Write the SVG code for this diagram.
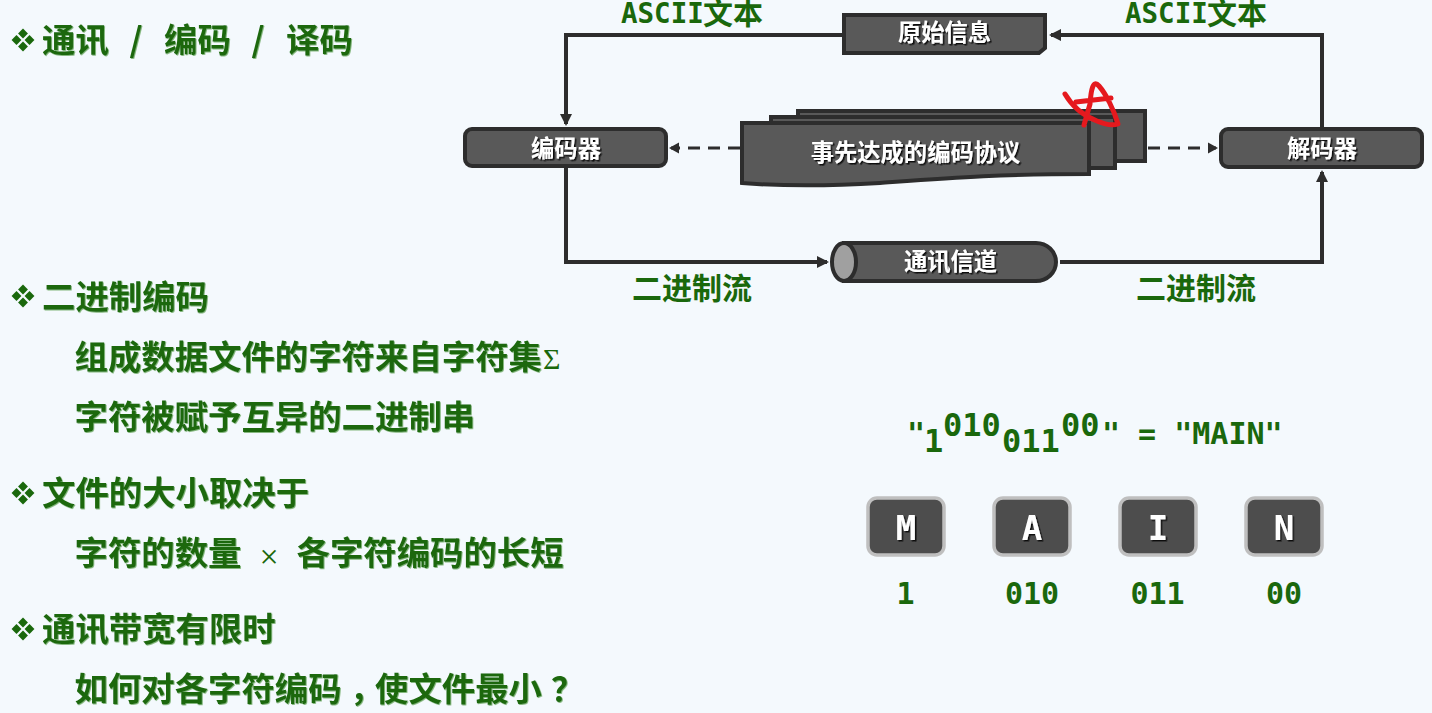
<svg xmlns="http://www.w3.org/2000/svg" width="1432" height="713" viewBox="0 0 1432 713">
<style>
.l{font-family:"Noto Sans CJK SC","Noto Sans",sans-serif;font-weight:700;font-size:33.4px;fill:#1a680c;filter:url(#gs)}
.g{font-family:"DejaVu Sans Mono","Noto Sans CJK SC",monospace;font-weight:700;font-size:27.5px;fill:#1a680c}
.c{font-family:"Noto Sans CJK SC",sans-serif;font-weight:700;font-size:30px;fill:#1a680c}
.n{font-family:"Noto Sans CJK SC",sans-serif;font-weight:700;font-size:23.300px;fill:#fff;text-anchor:middle;filter:url(#ds)}
.s{fill:#595959;stroke:#2d2d2d;stroke-width:4}
.w{fill:none;stroke:#2d2d2d;stroke-width:4}
.d{fill:none;stroke:#2d2d2d;stroke-width:3;stroke-dasharray:12 8}
.k{fill:#4d4d4d;stroke:#bfbfbf;stroke-width:3.500}
.m{font-family:"DejaVu Sans Mono",monospace;font-weight:700;font-size:30px;fill:#1a680c}
.m2{font-family:"DejaVu Sans Mono",monospace;font-weight:700;font-size:32px;fill:#1a680c}
.kt{font-family:"DejaVu Sans Mono",monospace;font-weight:700;font-size:34px;fill:#fff;text-anchor:middle;filter:url(#ds)}
.b{fill:#1a680c}
.sym{font-family:"Liberation Serif",serif;font-weight:400;fill:#1a680c}
</style>
<defs>
<filter id="ds" x="-10%" y="-10%" width="120%" height="130%"><feDropShadow dx="1.500" dy="1.500" stdDeviation="0.400" flood-color="#111"/></filter>
<filter id="gs" x="-5%" y="-5%" width="110%" height="115%"><feDropShadow dx="0.800" dy="0.800" stdDeviation="0.300" flood-color="#6aa860"/></filter>
<marker id="a" markerUnits="userSpaceOnUse" markerWidth="14" markerHeight="14" refX="10" refY="7" orient="auto"><path d="M0 1L12 7L0 13Z" fill="#2d2d2d"/></marker>
<marker id="a2" markerUnits="userSpaceOnUse" markerWidth="14" markerHeight="14" refX="8" refY="7" orient="auto"><path d="M0 1.500L10 7L0 12.500Z" fill="#2d2d2d"/></marker>
<g id="bu"><rect x="-3.500" y="-10" width="7" height="7" transform="rotate(45 0 -6.500)"/><rect x="-3.500" y="3" width="7" height="7" transform="rotate(45 0 6.500)"/><rect x="-10" y="-3.500" width="7" height="7" transform="rotate(45 -6.500 0)"/><rect x="3" y="-3.500" width="7" height="7" transform="rotate(45 6.500 0)"/></g>
</defs>
<rect width="1432" height="713" fill="#f4f9fd"/>
<g id="bullets" class="b">
<use href="#bu" x="23" y="40"/><use href="#bu" x="23" y="296"/><use href="#bu" x="23" y="493"/><use href="#bu" x="23" y="629"/>
</g>
<g id="list">
<text class="l" x="42" y="52">通讯</text>
<text class="l" x="136" y="52" text-anchor="middle">/</text>
<text class="l" x="164" y="52">编码</text>
<text class="l" x="258" y="52" text-anchor="middle">/</text>
<text class="l" x="286" y="52">译码</text>
<text class="l" x="42" y="309">二进制编码</text>
<text class="l" x="74.500" y="369">组成数据文件的字符来自字符集</text>
<text class="sym" x="543" y="369" font-size="30">Σ</text>
<text class="l" x="74.500" y="429">字符被赋予互异的二进制串</text>
<text class="l" x="42" y="505">文件的大小取决于</text>
<text class="l" x="74.500" y="565">字符的数量</text>
<text class="sym" x="269" y="568" font-size="34" text-anchor="middle">×</text>
<text class="l" x="296.500" y="565">各字符编码的长短</text>
<text class="l" x="42" y="641">通讯带宽有限时</text>
<text class="l" x="74.500" y="701">如何对各字符编码<tspan dx="8">，</tspan><tspan dx="-8">使文件最小</tspan><tspan dx="9">？</tspan></text>
</g>
<g id="connectors">
<path class="w" d="M842 35H566V124" marker-end="url(#a)"/>
<path class="w" d="M1322 128V35H1051" marker-end="url(#a)"/>
<path class="w" d="M566 168V262H827" marker-end="url(#a)"/>
<path class="w" d="M1060 262H1322V172" marker-end="url(#a)"/>
<path class="d" d="M740 148H671" marker-end="url(#a2)"/>
<path class="d" d="M1148 148H1216" marker-end="url(#a2)"/>
</g>
<g id="labels">
<text class="g" x="621" y="23">ASCII</text><text class="c" x="703" y="24">文本</text>
<text class="g" x="1125" y="23">ASCII</text><text class="c" x="1207" y="24">文本</text>
<text class="c" x="632" y="299">二进制流</text>
<text class="c" x="1136" y="299">二进制流</text>
</g>
<g id="source">
<path class="s" d="M844 15H1045V48L1039 53H844Z"/>
<text class="n" x="944.500" y="41">原始信息</text>
</g>
<g id="encoder"><rect class="s" x="465" y="129" width="201" height="37" rx="7"/><text class="n" x="566" y="157">编码器</text></g>
<g id="decoder"><rect class="s" x="1221" y="129" width="201" height="38" rx="7"/><text class="n" x="1322" y="157">解码器</text></g>
<g id="protocol">
<rect class="s" x="798" y="111" width="347" height="50"/>
<rect class="s" x="771" y="117" width="344" height="51"/>
<path class="s" d="M742 123H1089V174C1000 174 950 178 880 183C830 186 780 186 742 183Z"/>
<text class="n" x="915.500" y="161">事先达成的编码协议</text>
</g>
<path id="scribble" d="M1065 94C1072 106 1084 116 1097 121C1104 124 1112 126 1118 124C1114 110 1106 94 1099 86C1093 79 1091 90 1090 104L1084 125M1076 102L1111 98" fill="none" stroke="#e5191e" stroke-width="5" stroke-linecap="round" stroke-linejoin="round"/>
<g id="channel">
<path class="s" d="M844 243H1036A20 19 0 0 1 1036 281H844Z"/>
<ellipse cx="844" cy="262" rx="12" ry="19" fill="#a0a0a0" stroke="#2d2d2d" stroke-width="4"/>
<text class="n" x="950.500" y="270">通讯信道</text>
</g>
<g id="formula">
<text class="m" x="907" y="444">"</text>
<text class="m2" x="924" y="452">1</text>
<text class="m2" x="943" y="436">010</text>
<text class="m2" x="1002" y="452">011</text>
<text class="m2" x="1061" y="436">00</text>
<text class="m" x="1102" y="444" xml:space="preserve">" = "MAIN"</text>
</g>
<g id="key-m"><rect class="k" x="868" y="498" width="76" height="57" rx="9"/><text class="kt" x="906" y="540">M</text></g>
<g id="key-a"><rect class="k" x="994" y="498" width="76" height="57" rx="9"/><text class="kt" x="1032" y="540">A</text></g>
<g id="key-i"><rect class="k" x="1120" y="498" width="76" height="57" rx="9"/><text class="kt" x="1158" y="540">I</text></g>
<g id="key-n"><rect class="k" x="1246" y="498" width="76" height="57" rx="9"/><text class="kt" x="1284" y="540">N</text></g>
<g id="codes" text-anchor="middle">
<text class="m" x="905.500" y="604">1</text>
<text class="m" x="1032" y="604">010</text>
<text class="m" x="1157.500" y="604">011</text>
<text class="m" x="1284" y="604">00</text>
</g>
</svg>
